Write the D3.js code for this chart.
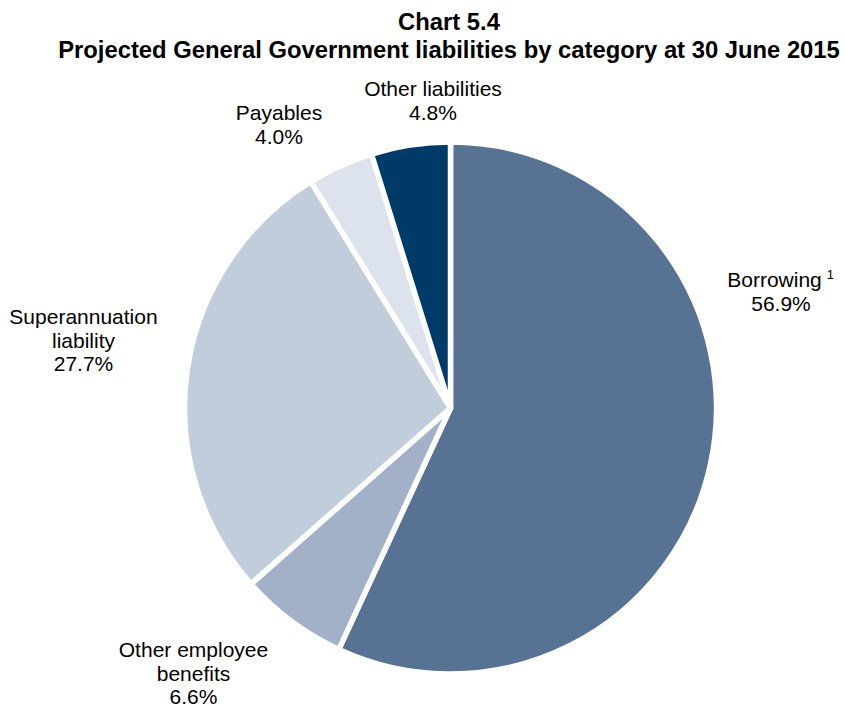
<!DOCTYPE html>
<html>
<head>
<meta charset="utf-8">
<script src="https://cdn.jsdelivr.net/npm/d3@7"></script>
<style>
  html, body { margin: 0; padding: 0; background: #fff; }
  svg { display: block; font-family: "Liberation Sans", Arial, sans-serif; }
</style>
</head>
<body>
<svg id="chart" width="847" height="708"></svg>
<script>
// Liability categories, clockwise from 12 o'clock
const categories = ["Borrowing", "Other employee benefits", "Superannuation liability", "Payables", "Other liabilities"];
const shares = [56.9, 6.6, 27.7, 4.0, 4.8];
const colours = ["#587294", "#a2b1c8", "#c2cddc", "#dde3ec", "#003a69"];

// Label text lines and anchor positions (first baseline)
const labelLines = [
  ["Borrowing", "56.9%"],
  ["Other employee", "benefits", "6.6%"],
  ["Superannuation", "liability", "27.7%"],
  ["Payables", "4.0%"],
  ["Other liabilities", "4.8%"]
];
const labelPos = [[781, 287], [193.5, 657], [83.5, 324], [279, 120], [433, 96]];
const lineStep = 23.5;

const svg = d3.select("#chart");
const cx = 450.5, cy = 408, radius = 266;

const titles = ["Chart 5.4", "Projected General Government liabilities by category at 30 June 2015"];
svg.append("g")
  .attr("font-weight", "bold").attr("font-size", 23.8)
  .attr("text-anchor", "middle")
  .selectAll("text")
  .data(titles)
  .join("text")
  .attr("x", 449)
  .attr("y", (d, i) => 30 + i * 28)
  .text(d => d);

const pie = d3.pie().sort(null).value(d => d);
const arc = d3.arc().innerRadius(0).outerRadius(radius);

const g = svg.append("g").attr("transform", `translate(${cx},${cy})`);
g.selectAll("path")
  .data(pie(shares))
  .join("path")
  .attr("d", arc)
  .attr("fill", (d, i) => colours[i])
  .attr("stroke", "#fff")
  .attr("stroke-width", 5.5)
  .attr("stroke-linejoin", "round");

const labels = svg.append("g")
  .attr("font-size", 21)
  .attr("fill", "#000")
  .attr("text-anchor", "middle");

labelLines.forEach((lines, i) => {
  lines.forEach((line, j) => {
    const x = labelPos[i][0];
    const y = labelPos[i][1] + j * lineStep;
    const t = labels.append("text").attr("x", x).attr("y", y).text(line);
    // footnote marker after "Borrowing"
    if (i === 0 && j === 0) {
      const w = t.node().getComputedTextLength();
      const supGap = 5, supW = 8;
      t.attr("x", x - (supGap + supW) / 2);
      labels.append("text")
        .attr("x", x - (supGap + supW) / 2 + w / 2 + supGap)
        .attr("y", y - 8)
        .attr("text-anchor", "start")
        .attr("font-size", 13)
        .text("1");
    }
  });
});
</script>
</body>
</html>
